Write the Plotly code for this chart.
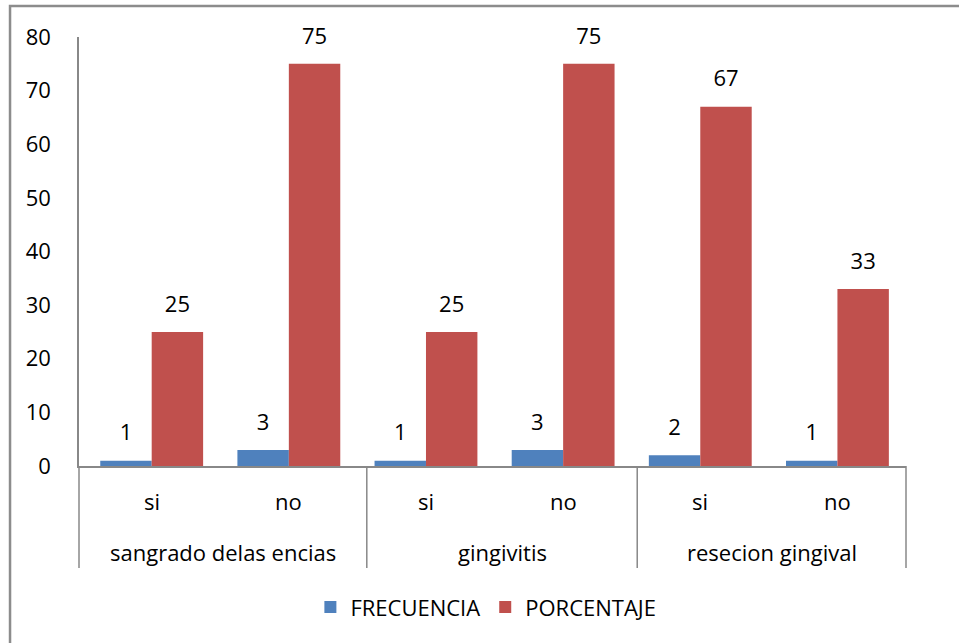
import plotly.graph_objects as go

groups = ["sangrado delas encias", "sangrado delas encias", "gingivitis", "gingivitis",
          "resecion gingival", "resecion gingival"]
answers = ["si", "no", "si", "no", "si", "no"]
group_names = ["sangrado delas encias", "gingivitis", "resecion gingival"]
frecuencia = [1, 3, 1, 3, 2, 1]
porcentaje = [25, 75, 25, 75, 67, 33]
y_ticks = [0, 10, 20, 30, 40, 50, 60, 70, 80]

FONT = "Open Sans"
FS = 22
BLUE, RED = "#4F81BD", "#C0504D"
AX = "#888888"
X_RANGE = [-0.53, 5.5]
DIVIDERS = [0.0, 0.348, 0.675, 1.0]


def cat_frac(i):
    return (i - X_RANGE[0]) / (X_RANGE[1] - X_RANGE[0])


fig = go.Figure()
for name, vals, col in [("FRECUENCIA", frecuencia, BLUE), ("PORCENTAJE", porcentaje, RED)]:
    fig.add_trace(go.Bar(name=name, x=[groups, answers], y=vals, offsetgroup=name,
                         marker=dict(color=col, line=dict(width=0))))
for name, vals in [("FRECUENCIA", frecuencia), ("PORCENTAJE", porcentaje)]:
    fig.add_trace(go.Scatter(x=[groups, answers], y=vals, offsetgroup=name,
                             mode="markers+text", text=[str(v) for v in vals],
                             textposition="top center", showlegend=False, hoverinfo="skip",
                             cliponaxis=False,
                             marker=dict(size=22, color="rgba(0,0,0,0)"),
                             textfont=dict(family=FONT, size=FS, color="black")))

ann = []
for i, a in enumerate(answers):
    ann.append(dict(text=a, xref="paper", yref="paper", x=cat_frac(i), y=-0.0816,
                    showarrow=False, xanchor="center", yanchor="middle",
                    font=dict(family=FONT, size=FS, color="black")))
for j, g in enumerate(group_names):
    ann.append(dict(text=g, xref="paper", yref="paper",
                    x=(DIVIDERS[j] + DIVIDERS[j + 1]) / 2, y=-0.2005,
                    showarrow=False, xanchor="center", yanchor="middle",
                    font=dict(family=FONT, size=FS, color="black")))
shapes = []
for d in DIVIDERS:
    shapes.append(dict(type="line", xref="paper", yref="paper", x0=d, x1=d,
                       y0=0, y1=-0.238, line=dict(color=AX, width=1.5)))
shapes.append(dict(type="rect", xref="paper", yref="paper", x0=-0.0834, y0=-2, x1=2,
                   y1=1.0723, line=dict(color="#8c8c8c", width=2.5),
                   fillcolor="rgba(0,0,0,0)", layer="below"))

fig.update_layout(
    width=959, height=643,
    margin=dict(l=79, r=53, t=37, b=177),
    paper_bgcolor="white", plot_bgcolor="white",
    barmode="group", bargap=0.25, bargroupgap=0,
    scattermode="group", scattergap=0.25,
    font=dict(family=FONT, size=FS, color="black"),
    showlegend=True,
    legend=dict(orientation="h", x=0.492, xanchor="center", y=-0.329, yanchor="middle",
                font=dict(family=FONT, size=FS, color="black"), traceorder="normal"),
    xaxis=dict(type="multicategory", range=X_RANGE, showline=True, linecolor=AX,
               linewidth=1.5, showgrid=False, ticks="", showticklabels=False,
               showdividers=False),
    yaxis=dict(range=[0, 80], tickvals=y_ticks, showline=True, linecolor=AX,
               linewidth=1.5, showgrid=False, zeroline=False, ticks="",
               ticklabelstandoff=22,
               tickfont=dict(family=FONT, size=FS, color="black")),
    annotations=ann, shapes=shapes,
)
fig.write_html("out.html", config={"displayModeBar": False},
               post_script="document.body.style.margin='0';")
